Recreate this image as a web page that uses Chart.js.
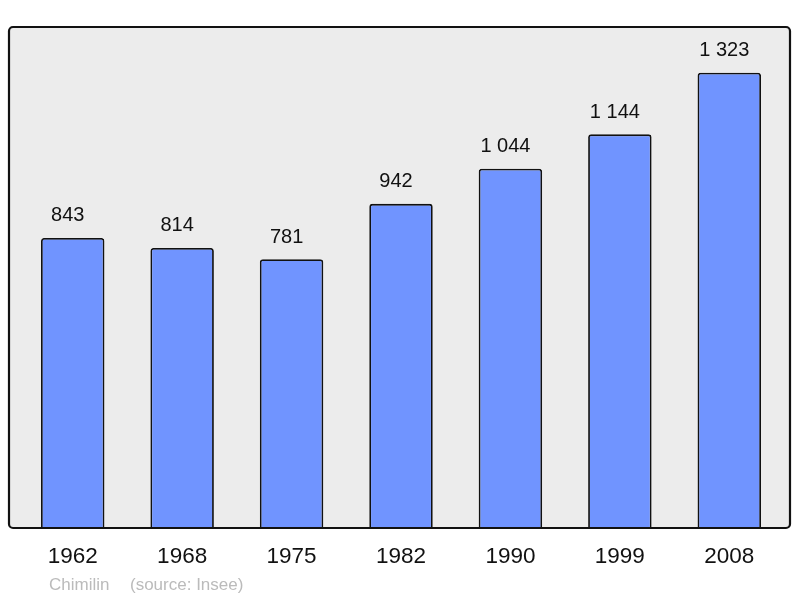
<!DOCTYPE html>
<html>
<head>
<meta charset="utf-8">
<script src="https://cdn.jsdelivr.net/npm/chart.js@4"></script>
<style>
  body { margin: 0; background: #fff; }
  canvas { display: block; }
</style>
</head>
<body>
<canvas id="chart" width="800" height="598"></canvas>
<script>
const years = ['1962', '1968', '1975', '1982', '1990', '1999', '2008']
const population = [843, 814, 781, 942, 1044, 1144, 1323]
const commune = 'Chimilin'
const source = '(source: Insee)'

function fmt(n) {
    return String(n).replace(/\B(?=(\d{3})+(?!\d))/g, ' ')
}

// grey panel behind the bars + labels
const panel = {
    id: 'panel',
    beforeDraw(chart) {
        const ctx = chart.ctx
        ctx.save()
        ctx.beginPath()
        ctx.roundRect(9, 27, 781, 501, 4)
        ctx.fillStyle = '#ececec'
        ctx.fill()
        ctx.restore()
    },
    afterDatasetsDraw(chart) {
        const ctx = chart.ctx
        const x = chart.scales.x
        const meta = chart.getDatasetMeta(0)
        ctx.save()
        ctx.beginPath()
        ctx.roundRect(9, 27, 781, 501, 4)
        ctx.lineWidth = 2.2
        ctx.strokeStyle = '#111'
        ctx.stroke()

        ctx.fillStyle = '#111'
        ctx.textAlign = 'center'
        ctx.textBaseline = 'middle'
        ctx.font = '20px "Liberation Sans", Arial, sans-serif'
        meta.data.forEach((bar, i) => {
            ctx.fillText(fmt(population[i]), bar.x - 5, bar.y - 22)
        })
        ctx.font = '22.5px "Liberation Sans", Arial, sans-serif'
        years.forEach((y, i) => {
            ctx.fillText(y, x.getPixelForValue(i), 557)
        })
        ctx.font = '17px "Liberation Sans", Arial, sans-serif'
        ctx.fillStyle = '#bbbbbb'
        ctx.textAlign = 'left'
        ctx.fillText(commune, 49, 585)
        ctx.fillText(source, 130, 585)
        ctx.restore()
    }
}

new Chart(document.getElementById('chart'), {
    type: 'bar',
    data: {
        labels: years,
        datasets: [{
            data: population,
            backgroundColor: '#7094ff',
            borderColor: '#111',
            borderWidth: 1.8,
            borderRadius: 3,
            barPercentage: 0.58,
            categoryPercentage: 1
        }]
    },
    options: {
        responsive: false,
        animation: false,
        layout: { padding: { left: 18, right: 16, top: 27, bottom: 70 } },
        plugins: { legend: { display: false }, tooltip: { enabled: false } },
        scales: {
            x: { display: false },
            y: { display: false, min: 0, max: 1456 }
        }
    },
    plugins: [panel]
})
</script>
</body>
</html>
